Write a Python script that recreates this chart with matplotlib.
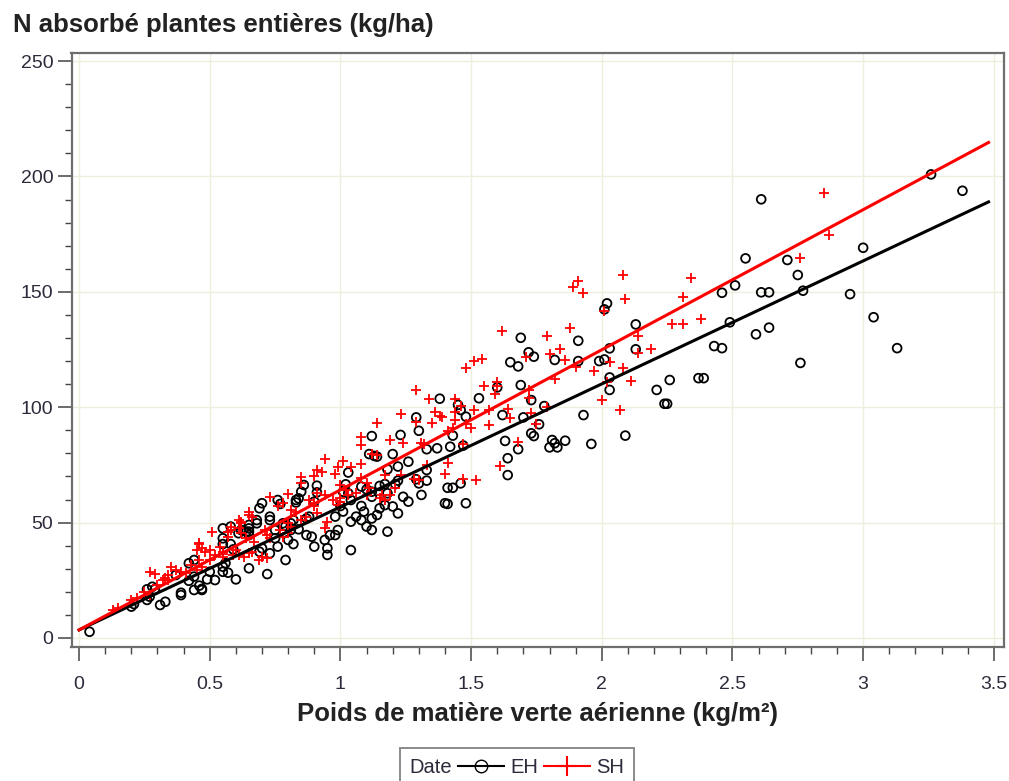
#!/usr/bin/env python3
"""N absorbé vs poids de matière verte, EH / SH."""

import matplotlib
matplotlib.use('Agg')
import matplotlib.pyplot as plt
import numpy as np
from matplotlib.lines import Line2D
from matplotlib.offsetbox import HPacker
from matplotlib.ticker import MultipleLocator

plt.rcParams['font.family'] = ['Liberation Sans', 'DejaVu Sans']

# --- Data ---
EH_x = [2.61, 3.26, 3.38, 3.00, 2.55, 2.71, 2.75, 2.51, 2.46, 2.61, 2.64, 2.77, 2.95, 3.04,
        2.49, 2.59, 2.64, 3.13, 2.43, 2.46, 2.76, 2.39,
        2.02, 2.01, 2.13, 1.91, 2.03, 2.13, 1.91, 1.99, 2.01, 2.03, 2.03, 2.37, 2.26, 2.21,
        2.25, 2.24, 1.93, 2.09, 1.86, 1.96,
        1.69, 1.72, 1.74, 1.82, 1.65, 1.68, 1.69, 1.60, 1.53, 1.38, 1.73, 1.78, 1.45, 1.46,
        1.48, 1.62, 1.70, 1.76, 1.73, 1.74, 1.43, 1.63, 1.81, 1.82, 1.80, 1.83, 1.68, 1.37,
        1.33, 1.42, 1.64,
        1.29, 1.30, 1.23, 1.12, 1.47, 1.64, 1.11, 1.13, 1.14, 1.20, 1.26, 1.18, 1.22, 1.33,
        1.03, 0.86, 0.85, 0.91, 0.91, 1.02, 1.01, 1.03, 1.08, 1.10, 1.12, 1.15, 1.17, 1.21,
        1.22, 1.29, 1.30, 1.33, 1.24, 1.18, 1.31, 1.41, 1.43, 1.46, 1.40, 1.41, 1.48, 1.12,
        1.04, 1.26, 0.90,
        0.83, 0.84, 0.83, 0.76, 0.77, 0.73, 0.73, 0.68, 0.62, 0.65, 0.65, 0.55, 0.55, 0.44,
        0.42, 0.79, 0.73, 0.69, 0.70, 0.76, 0.75, 0.80, 0.82, 0.81, 0.84, 0.87, 0.89, 0.90,
        0.95, 0.95, 0.87, 0.88, 0.81, 0.82, 0.75, 0.65, 0.61, 0.58, 0.59, 1.00, 1.01, 1.04,
        1.06, 0.96, 0.99, 1.04, 1.08, 1.09, 1.08, 1.14, 1.15, 1.17, 1.10, 1.12, 1.12, 1.18,
        1.20, 1.22, 0.94, 0.98, 0.98, 0.78, 0.79,
        0.04, 0.20, 0.21, 0.26, 0.27, 0.31, 0.33, 0.29, 0.28, 0.39, 0.39, 0.44, 0.47, 0.46,
        0.47, 0.49, 0.52, 0.55, 0.57, 0.60, 0.65, 0.72, 0.50, 0.44, 0.42, 0.37, 0.26, 0.55,
        0.56, 0.55, 0.58, 0.64, 0.65, 0.68, 0.69, 0.70]
EH_y = [190.1, 200.9, 193.8, 169.1, 164.5, 163.8, 157.3, 152.8, 149.6, 149.8, 149.8, 150.5, 149.0, 139.0,
        136.8, 131.6, 134.5, 125.6, 126.5, 125.6, 119.2, 112.6,
        145.0, 142.4, 135.9, 128.8, 125.5, 125.1, 120.0, 120.0, 120.7, 112.9, 107.5, 112.6, 111.8, 107.5,
        101.5, 101.5, 96.6, 87.7, 85.5, 84.1,
        130.1, 123.8, 121.9, 120.5, 119.5, 117.7, 109.6, 108.6, 103.9, 103.7, 103.1, 100.5, 101.0, 98.8,
        95.9, 96.6, 95.6, 92.6, 88.7, 87.5, 87.7, 85.4, 85.8, 84.4, 82.6, 82.6, 81.8, 82.2,
        81.8, 82.9, 77.9,
        95.6, 89.8, 88.0, 87.5, 83.4, 70.6, 79.7, 78.9, 78.6, 79.7, 76.4, 73.1, 74.3, 72.8,
        71.7, 66.3, 63.4, 66.0, 63.1, 66.6, 63.4, 62.7, 65.6, 64.4, 63.4, 65.9, 66.7, 66.7,
        68.2, 68.8, 67.0, 68.2, 61.2, 62.7, 62.0, 65.1, 65.1, 67.0, 58.4, 58.1, 58.4, 61.2,
        59.8, 59.1, 59.1,
        59.8, 60.5, 58.7, 59.8, 58.1, 52.6, 51.1, 51.1, 46.8, 47.5, 46.1, 43.2, 40.7, 33.8,
        32.4, 33.8, 36.7, 37.4, 38.9, 39.6, 43.2, 42.5, 40.7, 46.8, 47.1, 44.6, 43.9, 39.6,
        38.9, 36.0, 51.8, 52.6, 49.7, 51.1, 46.8, 44.6, 45.4, 40.7, 38.4, 57.2, 54.8, 50.4,
        52.6, 44.6, 46.8, 38.1, 57.2, 54.8, 51.1, 53.3, 56.2, 57.6, 48.3, 46.8, 51.8, 46.1,
        57.0, 54.0, 42.5, 44.6, 52.6, 49.7, 48.5,
        2.7, 13.6, 14.7, 16.5, 17.9, 14.3, 15.7, 21.1, 22.2, 19.6, 18.6, 20.8, 20.8, 22.7,
        21.3, 25.4, 25.1, 28.7, 28.3, 25.4, 30.2, 27.7, 28.7, 26.6, 24.8, 27.3, 21.1, 30.9,
        32.4, 47.5, 48.3, 46.1, 49.0, 49.7, 56.2, 58.4]

SH_x = [2.85, 2.87, 2.76, 2.38,
        2.08, 1.91, 1.89, 1.93, 2.09, 2.34, 2.31, 2.01, 1.88, 2.27, 2.31, 2.14, 2.19, 2.14,
        1.86, 1.90, 2.03, 2.08, 1.97, 2.02, 2.11, 2.00, 2.07,
        1.62, 1.79, 1.84, 1.80, 1.71, 1.51, 1.54, 1.48, 1.60, 1.60, 1.55, 1.59, 1.82, 1.34,
        1.44, 1.72, 1.36, 1.38, 1.39, 1.44, 1.46, 1.51, 1.57, 1.64, 1.65, 1.73, 1.75, 1.57,
        1.50, 1.48, 1.35, 1.41, 1.43, 1.32, 1.47, 1.68, 1.79, 1.72,
        1.29, 1.14, 1.23, 1.29, 1.44, 1.08, 1.08, 1.19, 1.24, 1.31, 1.14, 1.12, 0.94, 1.01,
        0.99, 0.98, 1.04, 1.08, 1.08, 1.17, 1.23, 1.33, 1.40, 1.41, 1.47, 1.52, 1.61, 0.91,
        0.93, 0.90, 0.85, 1.00, 1.02, 1.10, 1.11, 1.21, 1.19, 1.28, 1.30, 0.91, 0.94, 0.88,
        0.90, 0.85, 1.15, 1.17, 1.00,
        0.80, 0.73, 0.76, 0.78, 0.81, 0.65, 0.66, 0.62, 0.61, 0.58, 0.57, 0.51, 0.46, 0.47,
        0.48, 0.50, 0.54, 0.55, 0.60, 0.61, 0.63, 0.64, 0.67, 0.71, 0.72, 0.73, 0.77, 0.78,
        0.80, 0.70, 0.72, 0.83, 0.85, 0.87, 0.90, 0.91, 0.94, 0.95, 0.97, 0.99, 1.00, 1.03,
        1.06, 0.80, 0.81, 0.55, 0.66, 1.10, 1.16,
        0.15, 0.13, 0.20, 0.22, 0.25, 0.27, 0.30, 0.32, 0.34, 0.34, 0.37, 0.35, 0.41, 0.43,
        0.45, 0.47, 0.46, 0.50, 0.52, 0.55, 0.46, 0.45, 0.57, 0.58, 0.62, 0.61, 0.62, 0.65,
        0.69, 0.59, 0.65, 0.39, 0.27, 0.29, 0.33]
SH_y = [193.0, 174.6, 164.5, 138.2,
        157.3, 154.8, 152.0, 149.4, 147.0, 155.8, 147.6, 141.8, 134.3, 136.0, 136.0, 130.8, 125.1, 123.4,
        120.3, 117.6, 119.8, 117.2, 115.6, 110.9, 111.2, 103.1, 98.8,
        133.0, 131.0, 125.1, 123.0, 121.9, 120.0, 120.7, 116.9, 111.1, 109.2, 109.3, 105.7, 112.2, 103.4,
        103.6, 103.9, 98.1, 96.2, 95.6, 98.1, 100.5, 98.8, 98.8, 99.1, 95.2, 97.4, 92.7, 92.3,
        90.9, 92.7, 93.3, 89.8, 90.9, 84.1, 84.1, 84.8, 100.0, 107.5,
        107.5, 93.0, 96.9, 93.8, 94.5, 87.0, 83.6, 85.8, 84.4, 84.4, 79.3, 79.7, 77.4, 76.7,
        74.0, 70.9, 74.3, 75.3, 69.2, 70.6, 70.6, 75.0, 70.9, 76.0, 68.8, 68.5, 74.5, 72.8,
        72.1, 70.2, 69.9, 66.3, 64.1, 67.0, 64.9, 64.9, 62.0, 68.9, 68.5, 63.0, 62.0, 59.8,
        58.4, 67.0, 60.5, 59.8, 60.5,
        62.4, 61.0, 57.0, 58.4, 55.5, 54.8, 52.6, 50.4, 47.5, 48.3, 46.1, 46.1, 40.7, 38.9,
        37.4, 38.1, 39.6, 37.4, 38.1, 36.0, 35.3, 43.2, 41.7, 46.8, 44.6, 43.2, 46.8, 43.9,
        45.4, 35.3, 34.6, 54.8, 51.1, 52.6, 57.0, 54.0, 47.5, 50.4, 59.8, 57.6, 59.1, 62.0,
        62.7, 49.7, 48.3, 35.3, 37.4, 62.0, 62.0,
        12.9, 12.1, 16.5, 17.2, 20.1, 18.6, 23.0, 25.1, 25.1, 27.3, 29.5, 30.9, 28.0, 31.6,
        29.5, 30.9, 33.8, 33.8, 36.0, 36.4, 41.0, 38.1, 43.9, 46.8, 45.4, 51.1, 49.7, 53.3,
        33.8, 36.0, 36.7, 28.7, 28.7, 27.7, 25.9]

# regression lines (intercept, slope)
EH_fit = (3.5, 53.3)
SH_fit = (3.5, 60.7)
fit_range = (0.0, 3.48)

RED = '#ff0000'
FRAME = '#6e6e6e'
TXT = '#2b2b3b'

fig = plt.figure(figsize=(10.09, 7.81), dpi=100)
ax = fig.add_axes([71.5 / 1009, 1 - 647 / 781, (1004 - 71.5) / 1009, (647 - 53) / 781])

ax.grid(True, which='major', color='#efeddc', linewidth=1.0, zorder=0)
ax.set_axisbelow(True)

ax.scatter(EH_x, EH_y, marker='o', s=40, facecolors='none', edgecolors='black',
           linewidths=1.3, zorder=3)
ax.scatter(SH_x, SH_y, marker='+', s=44, color=RED, linewidths=1.3, zorder=3)

xx = np.linspace(*fit_range, 50)
ax.plot(xx, EH_fit[0] + EH_fit[1] * xx, color='black', lw=2.2, zorder=4)
ax.plot(xx, SH_fit[0] + SH_fit[1] * xx, color=RED, lw=2.2, zorder=4)

ax.set_xlim(-0.029, 3.539)
ax.set_ylim(-3.9, 253.5)
ax.xaxis.set_major_locator(MultipleLocator(0.5))
ax.xaxis.set_minor_locator(MultipleLocator(0.1))
ax.yaxis.set_major_locator(MultipleLocator(50))
ax.yaxis.set_minor_locator(MultipleLocator(10))
ax.xaxis.set_major_formatter(plt.FuncFormatter(lambda v, _: f'{v:g}'))

for side in ['top', 'right', 'left', 'bottom']:
    ax.spines[side].set_color(FRAME)
    ax.spines[side].set_linewidth(1.6)

ax.tick_params(which='major', direction='out', length=10, width=1.1, color='#444444',
               labelsize=14, labelcolor=TXT)
ax.tick_params(which='minor', direction='out', length=5, width=1.0, color='#444444')
ax.tick_params(axis='x', which='major', pad=11)
ax.tick_params(axis='y', which='major', pad=3)

ax.set_xlabel('Poids de matière verte aérienne (kg/m²)', fontsize=18.5,
              fontweight='bold', color='#222222', labelpad=6)
fig.text(13 / 1009, 1 - 25 / 781, 'N absorbé plantes entières (kg/ha)', fontsize=18.5,
         fontweight='bold', color='#222222', ha='left', va='center')

# legend: "Date" to the left of the entries, like the original
handles = [Line2D([], [], color='black', lw=1.5, marker='o', mfc='none', mec='black', ms=9),
           Line2D([], [], color=RED, lw=1.5, marker='+', mec=RED, ms=14, mew=1.5)]
leg = fig.legend(handles, ['EH', 'SH'], title='Date', ncol=2, loc='upper center',
                 bbox_to_anchor=(517 / 1009, 1 - 748 / 781), borderaxespad=0,
                 fontsize=14.5, title_fontsize=14.5, frameon=True, fancybox=False,
                 edgecolor=FRAME, handlelength=2.3, handletextpad=0.3, columnspacing=0.3,
                 borderpad=0.5)
leg.get_frame().set_linewidth(1.4)
box = leg._legend_box
box.__class__ = HPacker
box.align = 'center'
box.sep = 4
for t in leg.get_texts():
    t.set_color(TXT)
leg.get_title().set_color(TXT)

fig.savefig('out.png', dpi=100)
